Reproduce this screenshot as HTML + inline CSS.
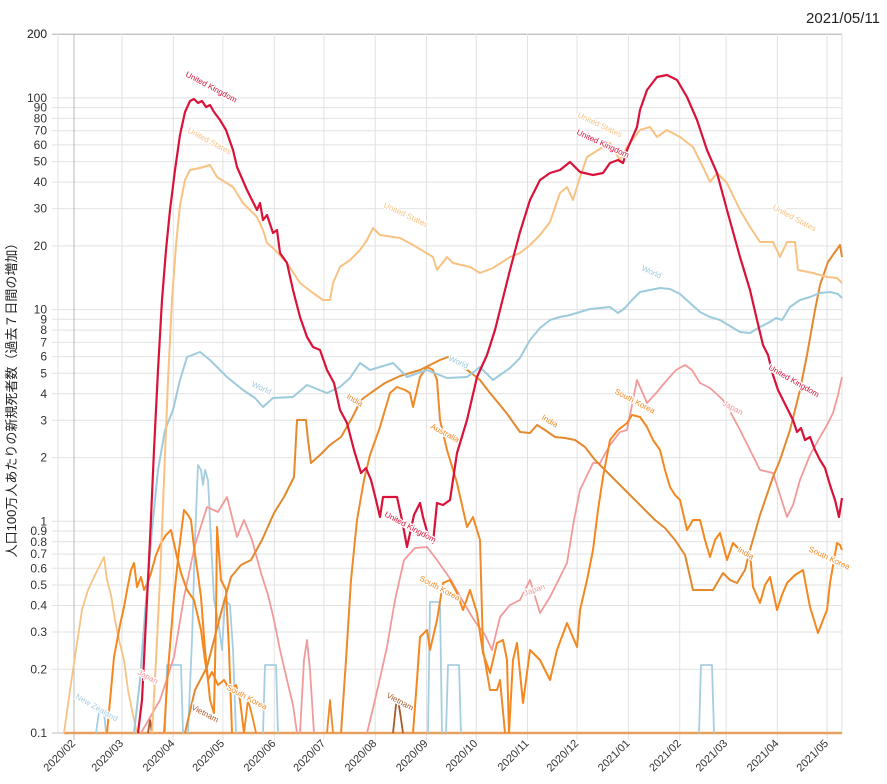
<!DOCTYPE html>
<html><head><meta charset="utf-8">
<style>
html,body{margin:0;padding:0;background:#fff;}
svg{display:block;font-family:"Liberation Sans","Noto Sans CJK JP",sans-serif;}
.lab{font-size:8px;stroke:#fff;stroke-width:2.5px;paint-order:stroke;}
</style></head><body>
<svg id="s" width="887" height="784" viewBox="0 0 887 784" xmlns="http://www.w3.org/2000/svg">
<text x="880" y="23" font-size="15" text-anchor="end" fill="#222">2021/05/11</text>
<text transform="translate(16,397) rotate(-90)" font-size="13" text-anchor="middle" fill="#222">人口100万人あたりの新規死者数（過去７日間の増加）</text>
<g id="grid"></g>
<g id="lines" fill="none" stroke-linejoin="round"></g>
<g id="labels"></g>
</svg>
<script>
var NS="http://www.w3.org/2000/svg";
function el(p,t,a,txt){var e=document.createElementNS(NS,t);for(var k in a)e.setAttribute(k,a[k]);if(txt)e.textContent=txt;p.appendChild(e);return e;}
var g=document.getElementById('grid'),L=document.getElementById('lines'),B=document.getElementById('labels');
function Y(v){return 733-(Math.log10(v)+1)*211.7;}
var vals=[];
[0.1,1,10,100].forEach(function(d){for(var i=1;i<10;i++){var v=d*i;if(v<=200)vals.push(+v.toFixed(2));}});
vals.push(200);
vals.forEach(function(v){var y=Y(v).toFixed(1);
 el(g,'line',{x1:52,x2:842,y1:y,y2:y,stroke:(v==0.1||v==200)?'#bbb':'#e2e2e2','stroke-width':1});
 el(g,'text',{x:47,y:+y+4,'font-size':12,'text-anchor':'end',fill:'#333'},String(v));
});
var months=['2020/02','2020/03','2020/04','2020/05','2020/06','2020/07','2020/08','2020/09','2020/10','2020/11','2020/12','2021/01','2021/02','2021/03','2021/04','2021/05'];
var days=[0,29,60,90,121,151,182,213,243,274,304,335,366,394,425,455];
el(g,'line',{x1:58,x2:58,y1:34,y2:733,stroke:'#e2e2e2'});
days.forEach(function(d,i){var x=(74+d*1.655).toFixed(1);
 el(g,'line',{x1:x,x2:x,y1:34,y2:740,stroke:i==0?'#bbb':'#e2e2e2'});
 el(g,'text',{transform:'translate('+(+x+2)+',744) rotate(-45)','font-size':11,'text-anchor':'end',fill:'#333'},months[i]);
});
el(g,'line',{x1:842,x2:842,y1:34,y2:733,stroke:'#e2e2e2'});
function pl(c,w,p){el(L,'polyline',{stroke:c,'stroke-width':w,points:p.map(function(q){return q.join(',')}).join(' ')});}
var UK='#d9123a',US='#f8c283',WO='#9ecbdc',IN='#e3892e',SK='#f5871f',AU='#ef8a28',JP='#f29a9a',VN='#a85a2a',NZ='#a6cee3';
// baseline
pl('#e8a060',2.5,[[64,733],[842,733]]);
// NZ / light blue bars
pl(NZ,1.8,[[96,733],[99,712],[104,712],[106,733]]);
pl(NZ,1.8,[[165,733],[167,665],[181,665],[183,733]]);
pl(NZ,1.8,[[188,733],[192,640],[195,540],[198,465],[201,470],[203,485],[205,470],[208,480],[211,540],[214,600],[218,620],[222,650],[225,600],[230,605],[233,650],[236,733]]);
pl(NZ,1.8,[[263,733],[265,665],[276,665],[278,733]]);
pl(NZ,1.8,[[428,733],[430,602],[440,602],[442,733]]);
pl(NZ,1.8,[[446,733],[448,665],[459,665],[461,733]]);
pl(NZ,1.8,[[699,733],[701,665],[712,665],[714,733]]);
// early tan
pl(US,1.8,[[64,733],[70,690],[76,650],[82,610],[88,590],[95,575],[100,565],[104,557],[107,580],[111,595],[115,620],[119,640],[124,660],[128,690],[133,715],[137,733]]);
// Japan
pl(JP,1.8,[[141,733],[160,700],[174,657],[184,597],[195,545],[207,507],[218,512],[227,497],[237,537],[244,520],[252,540],[261,573],[268,595],[274,620],[280,650],[287,680],[293,705],[297,733]]);
pl(JP,1.8,[[300,733],[304,660],[307,640],[310,670],[314,733]]);
pl(JP,1.8,[[367,733],[375,700],[387,647],[395,600],[404,560],[415,548],[427,547],[437,560],[451,580],[462,600],[474,620],[485,635],[492,650],[500,617],[510,605],[520,600],[530,580],[540,613],[550,597],[567,563],[574,520],[580,490],[593,463],[600,463],[610,445],[620,432],[627,430],[637,380],[647,403],[657,392],[667,380],[676,370],[685,365],[692,370],[700,383],[710,388],[723,400],[732,415],[740,430],[750,450],[760,470],[773,473],[780,495],[787,517],[793,505],[800,480],[810,455],[820,437],[827,425],[833,413],[838,395],[842,377]]);
// Vietnam
pl(VN,1.8,[[393,733],[396,705],[398,700],[400,712],[403,733]]);
pl(VN,1.8,[[148,733],[150,720],[152,733]]);
// South Korea early
pl(SK,2,[[107,733],[111,690],[114,657],[120,625],[124,607],[128,585],[131,570],[134,563],[137,587],[141,577],[144,590],[148,582],[151,573],[156,555],[161,543],[166,535],[171,530],[177,557],[181,573],[187,590],[194,600],[201,630],[205,660],[208,680],[212,672],[218,685],[224,680],[230,690],[236,685],[240,700],[244,733]]);
pl(SK,2,[[164,733],[168,670],[174,597],[179,550],[184,510],[188,515],[191,520],[194,547],[198,575],[201,597],[205,650],[210,700],[214,713],[216,620],[217,527],[221,580],[226,590],[229,650],[232,733]]);
pl(SK,1.8,[[244,733],[248,700],[252,715],[256,733]]);
// SK later (third)
pl(SK,2,[[413,733],[417,680],[420,637],[427,630],[430,650],[437,620],[443,583],[450,580],[457,593],[463,610],[470,590],[477,613],[483,653],[490,673],[497,643],[503,640],[507,660],[509,733]]);
pl(SK,2,[[509,733],[513,660],[517,643],[523,703],[530,650],[540,660],[550,680],[557,650],[567,623],[572,635],[577,647],[580,610],[587,580],[593,550],[598,510],[603,477],[610,440],[618,430],[627,423],[632,415],[640,417],[647,427],[653,440],[660,450],[665,470],[670,487],[675,495],[680,500],[687,530],[693,520],[700,520],[705,540],[710,557],[715,540],[720,533],[727,560],[733,543],[740,550],[750,553],[753,587],[760,603],[765,585],[770,577],[777,610],[782,595],[787,583],[795,575],[803,570],[810,607],[818,633],[823,620],[827,610],[830,583],[834,560],[837,543],[840,545],[842,550]]);
// Australia
pl(AU,2,[[341,733],[346,660],[351,580],[357,520],[364,480],[370,455],[380,427],[390,393],[397,387],[405,390],[410,393],[413,407],[420,377],[427,367],[433,370],[437,380],[440,420],[447,450],[457,483],[467,527],[473,517],[480,540],[483,650],[490,690],[497,690],[500,680],[505,733]]);
pl(AU,1.8,[[327,733],[330,700],[333,733]]);
// India
pl(IN,2,[[185,733],[195,690],[207,667],[214,640],[221,613],[231,577],[241,565],[251,560],[262,540],[274,513],[284,497],[294,477],[297,420],[306,420],[308,440],[311,463],[320,455],[330,445],[341,437],[352,418],[361,400],[372,392],[385,383],[400,376],[420,370],[440,360],[448,357],[460,365],[470,372],[480,380],[490,393],[500,405],[508,415],[515,425],[520,432],[530,433],[537,425],[545,430],[555,437],[565,438],[575,440],[585,447],[595,460],[605,470],[615,480],[625,490],[635,500],[645,510],[655,520],[665,528],[675,540],[685,555],[693,590],[700,590],[713,590],[723,573],[730,580],[737,583],[745,570],[750,550],[760,515],[773,477],[780,460],[790,430],[800,390],[807,355],[815,310],[820,285],[828,262],[835,252],[840,245],[842,257]]);
// World
pl(WO,2,[[134,733],[140,680],[146,600],[152,530],[158,470],[165,430],[173,410],[180,380],[187,357],[200,352],[210,360],[227,377],[243,390],[255,398],[263,407],[273,398],[293,397],[307,385],[327,393],[340,387],[350,378],[360,363],[370,370],[393,363],[407,377],[427,370],[447,378],[467,377],[480,367],[493,380],[500,375],[510,368],[520,358],[530,340],[540,328],[550,320],[560,317],[570,315],[580,312],[590,309],[600,308],[610,307],[618,313],[625,308],[632,300],[640,292],[650,290],[660,288],[670,289],[680,294],[690,303],[700,312],[710,317],[720,320],[730,326],[740,332],[750,333],[760,327],[770,322],[776,318],[782,320],[790,307],[800,300],[810,297],[820,293],[830,292],[838,294],[842,298]]);
// United States
pl(US,2,[[152,733],[156,660],[160,580],[164,480],[168,380],[172,300],[176,245],[180,205],[185,180],[190,170],[200,168],[210,165],[217,177],[233,187],[243,203],[257,217],[263,230],[267,243],[273,248],[287,263],[300,283],[313,293],[323,300],[330,300],[333,283],[340,267],[350,260],[360,250],[367,240],[373,228],[380,235],[400,238],[413,245],[433,257],[437,270],[447,257],[453,263],[470,267],[480,273],[493,268],[510,257],[520,253],[530,245],[540,235],[550,222],[560,193],[567,187],[573,200],[580,177],[587,157],[603,147],[610,143],[620,160],[627,147],[640,130],[650,127],[657,137],[667,130],[680,137],[693,147],[703,167],[710,182],[717,173],[727,183],[740,210],[750,227],[760,242],[773,242],[780,257],[787,242],[795,242],[798,270],[813,273],[827,277],[837,278],[842,283]]);
// United Kingdom
pl(UK,2.2,[[138,733],[142,700],[146,620],[150,540],[154,450],[158,370],[162,300],[166,250],[170,210],[175,170],[180,135],[185,112],[190,101],[194,99],[198,103],[202,101],[206,107],[210,105],[214,112],[220,120],[226,130],[233,150],[237,167],[247,190],[257,210],[260,203],[263,220],[267,215],[273,233],[277,230],[280,253],[287,263],[293,290],[300,317],[307,337],[313,347],[320,350],[327,370],[334,383],[340,410],[347,423],[354,450],[361,473],[366,468],[371,480],[376,500],[380,517],[383,497],[397,497],[402,520],[407,547],[414,515],[420,503],[423,517],[428,535],[433,543],[437,503],[443,505],[450,500],[457,453],[467,420],[477,377],[487,355],[495,330],[500,310],[510,270],[520,232],[530,200],[540,180],[550,173],[560,170],[570,162],[580,172],[593,175],[603,173],[610,163],[618,160],[623,163],[627,150],[637,127],[640,110],[647,90],[657,77],[667,75],[677,80],[687,97],[697,120],[707,150],[717,173],[727,210],[740,257],[750,290],[757,320],[763,345],[768,355],[773,375],[778,390],[783,400],[788,410],[793,420],[797,432],[801,428],[805,440],[810,437],[815,450],[820,460],[825,468],[830,485],[835,500],[839,517],[842,498]]);
// labels
function lb(x,y,t,c,r){el(B,'text',{class:'lab',transform:'translate('+x+','+y+') rotate('+(r||25)+')',fill:c},t);}
lb(185,76,'United Kingdom',UK,28);
lb(187,132,'United States',US,28);
lb(383,207,'United States',US,25);
lb(577,117,'United States',US,25);
lb(576,134,'United Kingdom',UK,25);
lb(772,209,'United States',US,28);
lb(768,369,'United Kingdom',UK,30);
lb(251,386,'World',WO,25);
lb(641,270,'World',WO,25);
lb(448,360,'World',WO,25);
lb(346,398,'India',IN,30);
lb(541,419,'India',IN,30);
lb(737,551,'India',IN,30);
lb(430,428,'Australia',AU,28);
lb(384,516,'United Kingdom',UK,28);
lb(419,580,'South Korea',SK,28);
lb(614,393,'South Korea',SK,28);
lb(808,551,'South Korea',SK,25);
lb(226,689,'South Korea',SK,28);
lb(722,405,'Japan',JP,28);
lb(525,596,'Japan',JP,-20);
lb(137,674,'Japan',JP,28);
lb(191,709,'Vietnam',VN,28);
lb(386,697,'Vietnam',VN,28);
lb(75,698,'New Zealand',NZ,30);
</script>
</body></html>
